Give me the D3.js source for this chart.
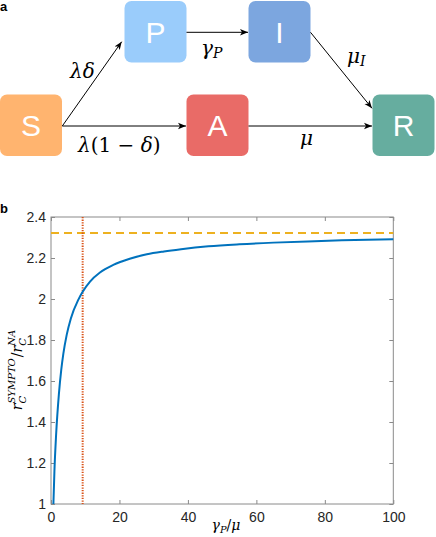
<!DOCTYPE html>
<html><head><meta charset="utf-8">
<script src="https://cdn.jsdelivr.net/npm/d3@7"></script>
<style>body{margin:0;background:#fff}svg{display:block}</style>
</head><body>
<svg id="c" width="436" height="537"></svg>
<script>
// ---- Data ----
const compartments = ["S","P","I","A","R"];
const compartmentColors = ["#FFB46F","#9ACCFB","#7CA6DF","#E96B67","#66AD9F"];
const transitions = [["S","P"],["P","I"],["I","R"],["S","A"],["A","R"]];
const gammaRatio = [0.7, 1, 1.5, 2.3, 3, 3.6, 4.6, 5.8, 8, 9.2, 11.4, 14.3, 18.2, 23, 28, 33, 38, 46, 55, 65, 75, 85, 100];
const rcRatio = [1.0, 1.16, 1.34, 1.535, 1.655, 1.732, 1.826, 1.905, 1.997, 2.034, 2.085, 2.129, 2.166, 2.196, 2.218, 2.232, 2.243, 2.257, 2.267, 2.275, 2.281, 2.286, 2.292];
const asymptote = 2.322;
const threshold = 9.25;
const xTicks = [0,20,40,60,80,100];
const yTicks = [1,1.2,1.4,1.6,1.8,2,2.2,2.4];

const svg = d3.select("#c");
const serif = "'DejaVu Serif', serif";
const sans = "'Liberation Sans', Arial, sans-serif";

// ---- Panel a ----
svg.append("text").attr("x",0).attr("y",11).attr("font-family",sans).attr("font-weight","bold").attr("font-size",13).text("a");
const boxPos = {S:[0,94.5],P:[124.5,1],I:[248.5,1],A:[186.5,94.5],R:[372.5,94.5]};
const bw = 62, bh = 61.5;
const gA = svg.append("g");
compartments.forEach((c,i)=>{
  const [x,y] = boxPos[c];
  gA.append("rect").attr("x",x).attr("y",y).attr("width",bw).attr("height",bh).attr("rx",7).attr("fill",compartmentColors[i]);
  gA.append("text").attr("x",x+bw/2).attr("y",y+bh/2+11).attr("text-anchor","middle")
    .attr("font-family",sans).attr("font-size",30).attr("fill","#fff").text(c);
});
svg.append("defs").append("marker").attr("id","ah").attr("viewBox","0 0 10 10").attr("refX",10).attr("refY",5)
  .attr("markerWidth",8).attr("markerHeight",8).attr("markerUnits","userSpaceOnUse").attr("orient","auto")
  .append("path").attr("d","M0,1 L10,5 L0,9 L2.5,5 Z").attr("fill","#000");
const arrowPts = {
  "S-P":[[62.3,126],[121.7,41.7]],
  "P-I":[[186.5,32.3],[248,32.3]],
  "I-R":[[310.5,32.3],[372,108.3]],
  "S-A":[[62.3,126],[186,126]],
  "A-R":[[248.5,126],[372,126]]
};
transitions.forEach(([a,b])=>{
  const [[x1,y1],[x2,y2]] = arrowPts[a+"-"+b];
  gA.append("line").attr("x1",x1).attr("y1",y1).attr("x2",x2).attr("y2",y2)
    .attr("stroke","#000").attr("stroke-width",1).attr("marker-end","url(#ah)");
});
function mathLabel(g, x, y, parts, size, anchor){
  const t = g.append("text").attr("x",x).attr("y",y).attr("font-family",serif).attr("font-size",size);
  parts.forEach(p=>{
    const ts = t.append("tspan").text(p.t);
    if(p.it) ts.attr("font-style","italic");
    if(p.sub){ ts.attr("font-size",size*0.7).attr("dy",p.dy); }
    else if(p.dy) ts.attr("dy",p.dy);
  });
  if(anchor) t.attr("text-anchor",anchor);
  return t;
}
mathLabel(gA, 70, 78, [{t:"λδ",it:true}], 20);
mathLabel(gA, 201, 55, [{t:"γ",it:true},{t:"P",it:true,sub:true,dy:3}], 20);
mathLabel(gA, 347, 63, [{t:"μ",it:true},{t:"I",it:true,sub:true,dy:3}], 20);
mathLabel(gA, 78, 152, [{t:"λ",it:true},{t:"(1 − "},{t:"δ",it:true},{t:")"}], 20);
mathLabel(gA, 300, 145, [{t:"μ",it:true}], 20);

// ---- Panel b ----
svg.append("text").attr("x",0).attr("y",213).attr("font-family",sans).attr("font-weight","bold").attr("font-size",13).text("b");
const x = d3.scaleLinear().domain([0,100]).range([51,393.3]);
const y = d3.scaleLinear().domain([1,2.4]).range([504,217]);
const gB = svg.append("g");
const axisColor = "#8a8a8a", labelColor = "#262626";
function styleAxis(g){
  g.select(".domain").remove();
  g.selectAll(".tick line").attr("stroke",axisColor);
  g.selectAll(".tick text").attr("fill",labelColor).attr("font-family",sans).attr("font-size",14);
}
gB.append("g").attr("transform",`translate(0,${y(1)})`)
  .call(d3.axisBottom(x).tickValues(xTicks).tickSize(-4).tickPadding(6).tickFormat(d3.format("~g"))).call(styleAxis)
  .selectAll(".tick text").attr("dy","0.85em");
gB.append("g").attr("transform",`translate(${x(0)},0)`)
  .call(d3.axisLeft(y).tickValues(yTicks).tickSize(-4).tickPadding(5).tickFormat(d3.format("~g"))).call(styleAxis);
gB.append("g").attr("transform",`translate(0,${y(2.4)})`)
  .call(d3.axisTop(x).tickValues(xTicks).tickSize(-4).tickFormat("")).call(styleAxis);
gB.append("g").attr("transform",`translate(${x(100)},0)`)
  .call(d3.axisRight(y).tickValues(yTicks).tickSize(-4).tickFormat("")).call(styleAxis);
gB.append("rect").attr("x",x(0)).attr("y",y(2.4)).attr("width",x(100)-x(0)).attr("height",y(1)-y(2.4))
  .attr("fill","none").attr("stroke",axisColor).attr("stroke-width",1);

gB.append("line").attr("x1",x(0)).attr("x2",x(100)).attr("y1",y(asymptote)).attr("y2",y(asymptote))
  .attr("stroke","#EDB120").attr("stroke-width",2).attr("stroke-dasharray","8,5");
gB.append("line").attr("x1",x(threshold)).attr("x2",x(threshold)).attr("y1",y(2.4)).attr("y2",y(1))
  .attr("stroke","#D95319").attr("stroke-width",2).attr("stroke-dasharray","1.3,1.3");
const line = d3.line().x((d,i)=>x(gammaRatio[i])).y(d=>y(d)).curve(d3.curveMonotoneX);
gB.append("path").datum(rcRatio).attr("d",line).attr("fill","none").attr("stroke","#0072BD").attr("stroke-width",2);

// x label
mathLabel(svg, 226, 530, [{t:"γ",it:true},{t:"P",it:true,sub:true,dy:3},{t:"/",dy:-3},{t:"μ",it:true}], 14, "middle");
// y label (rotated)
const yl = svg.append("g").attr("transform","translate(22,370) rotate(-90)");
let cx = 0;
function piece(txt, size, dy, italic){
  const t = yl.append("text").attr("x",cx).attr("y",dy).attr("font-family",serif).attr("font-size",size).attr("fill","#000").text(txt);
  if(italic) t.attr("font-style","italic");
  return t;
}
let r1 = piece("r",14,0,true); cx += r1.node().getComputedTextLength();
let s1 = piece("SYMPTO",10,-7,true); let c1 = piece("C",10,3.5,true);
cx += Math.max(s1.node().getComputedTextLength(), c1.node().getComputedTextLength()) + 1;
let sl = piece("/",14,0,false); cx += sl.node().getComputedTextLength();
let r2 = piece("r",14,0,true); cx += r2.node().getComputedTextLength();
let s2 = piece("NA",10,-7,true); let c2 = piece("C",10,3.5,true);
cx += Math.max(s2.node().getComputedTextLength(), c2.node().getComputedTextLength());
yl.selectAll("text").attr("transform",`translate(${-cx/2},0)`);
</script>
</body></html>
